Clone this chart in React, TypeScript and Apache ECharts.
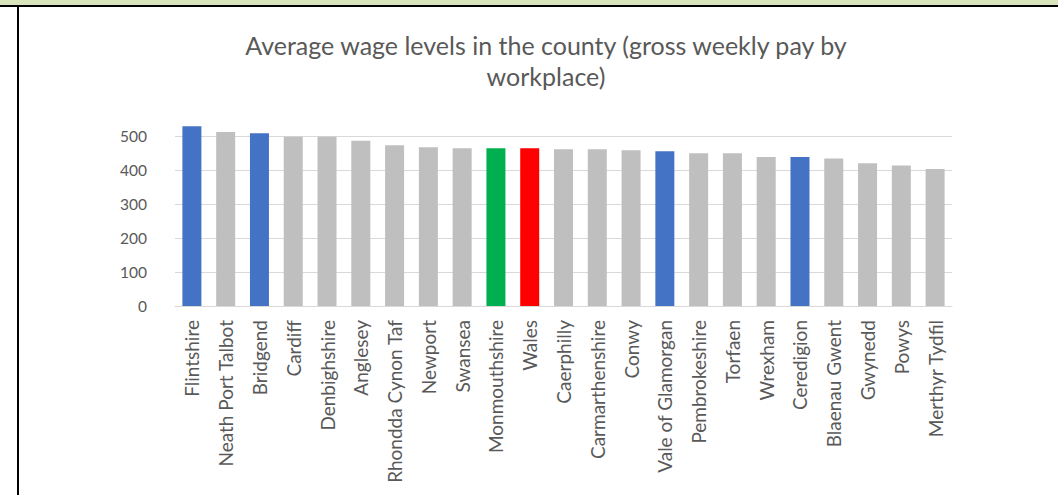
import React, { useEffect, useRef } from "react";
import * as echarts from "echarts";

const categories = [
  "Flintshire", "Neath Port Talbot", "Bridgend", "Cardiff", "Denbighshire", "Anglesey",
  "Rhondda Cynon Taf", "Newport", "Swansea", "Monmouthshire", "Wales", "Caerphilly",
  "Carmarthenshire", "Conwy", "Vale of Glamorgan", "Pembrokeshire", "Torfaen", "Wrexham",
  "Ceredigion", "Blaenau Gwent", "Gwynedd", "Powys", "Merthyr Tydfil",
];
const values = [529, 512, 508, 498, 498, 486, 473, 467, 464, 464, 464, 461, 461, 458, 455, 449, 449, 438, 438, 434, 420, 413, 403];
const blueSet = ["Flintshire", "Bridgend", "Vale of Glamorgan", "Ceredigion"];
const greenSet = ["Monmouthshire"];
const redSet = ["Wales"];
const yTicks = [0, 100, 200, 300, 400, 500];

const colorFor = (c: string) =>
  blueSet.includes(c) ? "#4472C4" : greenSet.includes(c) ? "#00B050" : redSet.includes(c) ? "#FF0000" : "#BFBFBF";

export default function App() {
  const ref = useRef<HTMLDivElement>(null);
  useEffect(() => {
    document.body.style.margin = "0";
    const chart = echarts.init(ref.current!, null, { renderer: "svg" });
    chart.setOption({
      animation: false,
      backgroundColor: "#ffffff",
      title: {
        text: "Average wage levels in the county (gross weekly pay by\nworkplace)",
        left: 541,
        textAlign: "center",
        top: 24,
        textStyle: { fontFamily: "Lato", fontSize: 25, fontWeight: "normal", color: "#595959", lineHeight: 31 },
      },
      graphic: [
        { type: "rect", shape: { x: 0, y: 0, width: 1058, height: 5 }, style: { fill: "#D8E4BC" } },
        { type: "rect", shape: { x: 0, y: 5, width: 1058, height: 2 }, style: { fill: "#000000" } },
        { type: "rect", shape: { x: 17, y: 5, width: 2, height: 490 }, style: { fill: "#000000" } },
      ],
      grid: { left: 175, right: 106, top: 136, bottom: 189, containLabel: false },
      xAxis: {
        type: "category",
        data: categories,
        axisLine: { lineStyle: { color: "#D9D9D9" } },
        axisTick: { show: false },
        axisLabel: { rotate: 90, interval: 0, fontFamily: "Lato", fontSize: 19, color: "#595959", margin: 14 },
      },
      yAxis: {
        type: "value",
        min: yTicks[0],
        max: yTicks[yTicks.length - 1],
        interval: 100,
        axisLine: { show: false },
        axisTick: { show: false },
        splitLine: { lineStyle: { color: "#D9D9D9" } },
        axisLabel: { fontFamily: "Lato", fontSize: 15.5, color: "#595959", margin: 28 },
      },
      series: [
        {
          type: "bar",
          clip: false,
          barWidth: 19,
          data: values.map((v, i) => ({ value: v, itemStyle: { color: colorFor(categories[i]) } })),
        },
      ],
    });
    return () => chart.dispose();
  }, []);
  return <div ref={ref} style={{ position: "absolute", left: 0, top: 0, width: 1058, height: 495 }} />;
}
